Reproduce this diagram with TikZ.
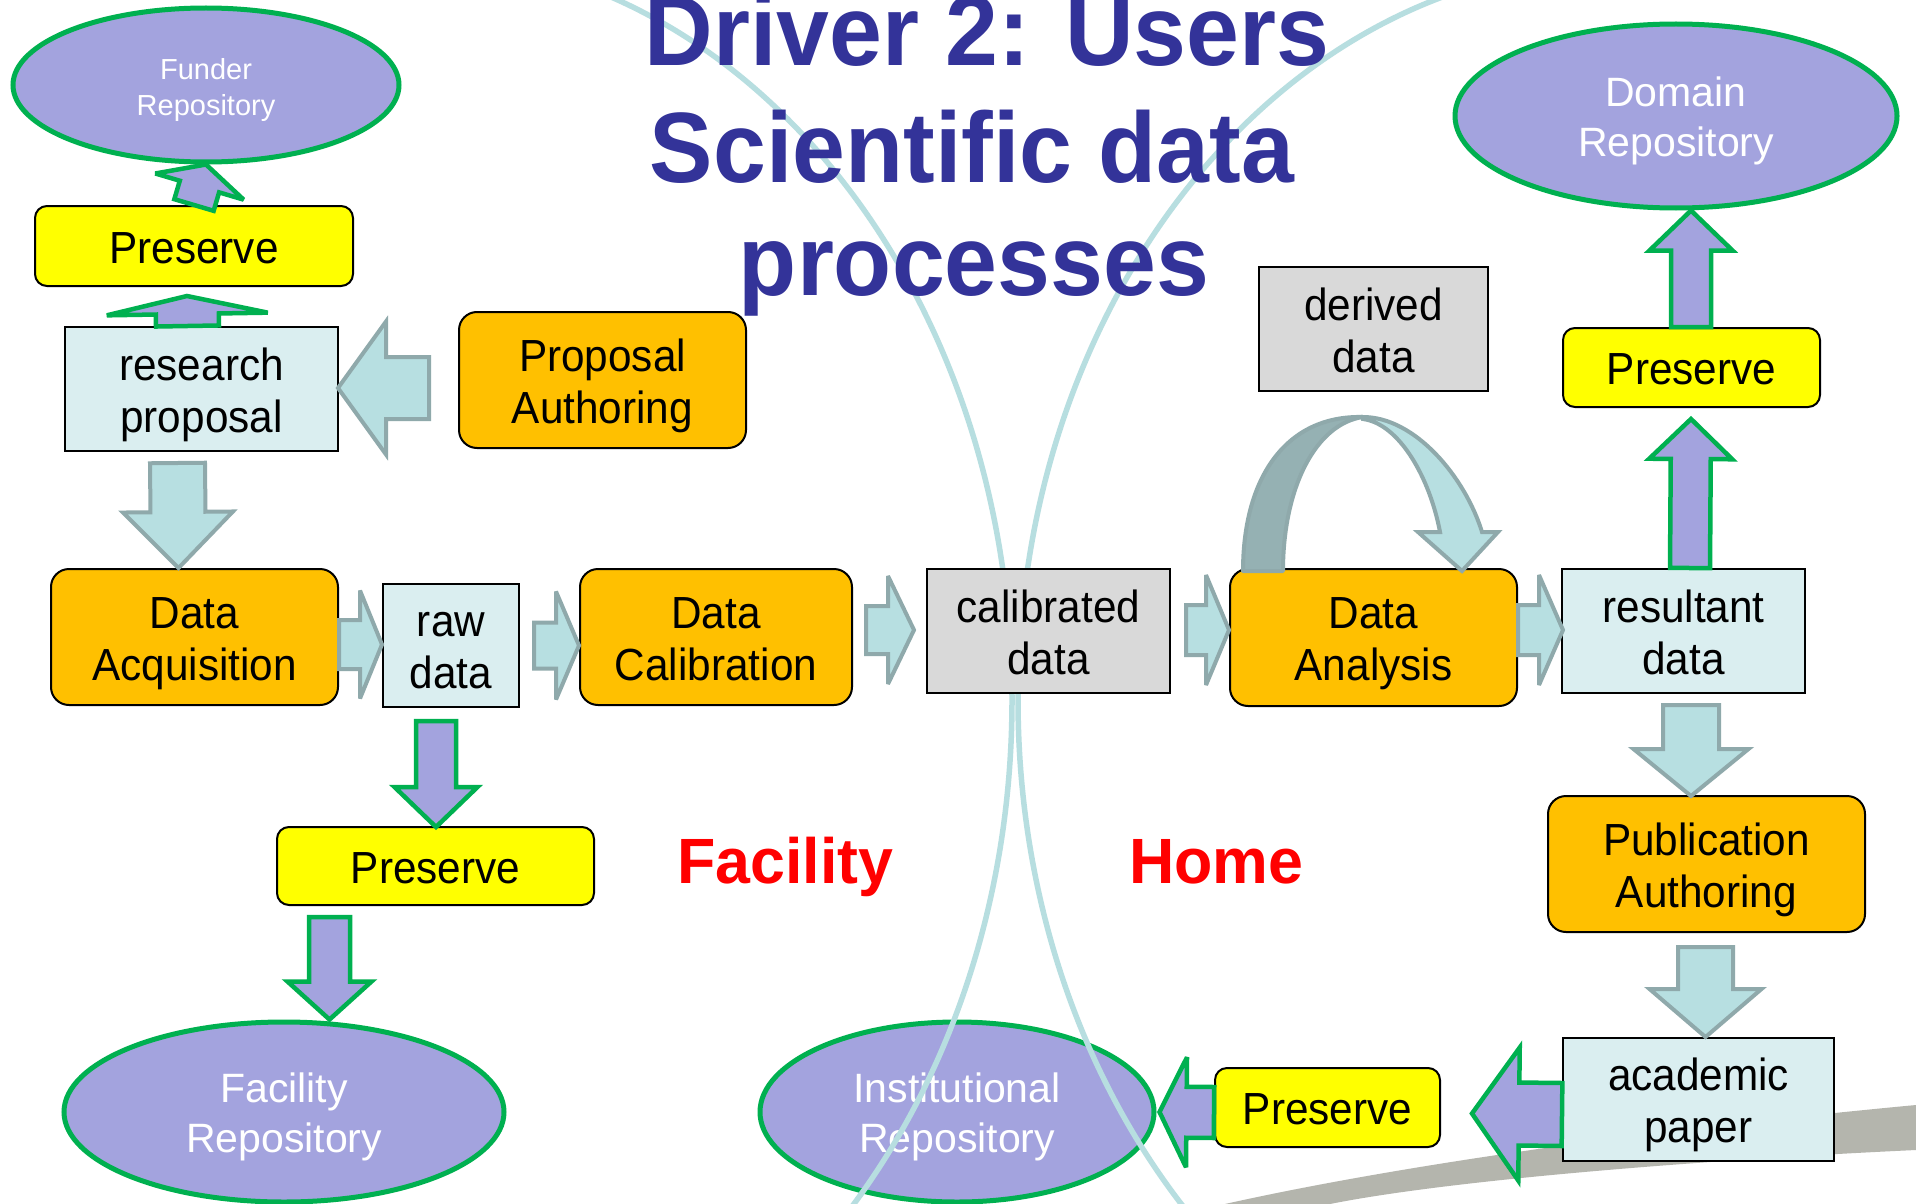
\documentclass[tikz,border=0pt]{standalone}
\usepackage{fontspec}
\usetikzlibrary{calc,shapes.geometric}

\newfontfamily\bodyfont[FakeStretch=0.94]{Liberation Sans}
\newfontfamily\repofont{Liberation Sans}
\newfontfamily\headfont[FakeStretch=0.95]{Liberation Sans}
\newfontfamily\zonefont[FakeStretch=0.98]{Liberation Sans}
\newcommand\bodytext{\bodyfont\fontsize{45}{52}\selectfont}
\newcommand\repotext{\repofont\fontsize{41}{50}\selectfont}
% fixed struts so that every label sits on the same baselines
\newcommand\boxtop{\rule{0pt}{44pt}}
\newcommand\boxbot{\rule[-10pt]{0pt}{10pt}}
\newcommand\repotop{\rule{0pt}{40pt}}
\newcommand\repobot{\rule[-9pt]{0pt}{9pt}}
\newcommand\smalltop{\rule{0pt}{32pt}}
\newcommand\smallbot{\rule[-6pt]{0pt}{6pt}}

\definecolor{procorange}{HTML}{FFC000}
\definecolor{keepyellow}{HTML}{FFFF00}
\definecolor{docblue}{HTML}{DAEEF0}
\definecolor{datagray}{HTML}{D9D9D9}
\definecolor{repolilac}{HTML}{A3A3DE}
\definecolor{repogreen}{HTML}{00B050}
\definecolor{flowfill}{HTML}{B7DFE1}
\definecolor{flowedge}{HTML}{8FA9AB}
\definecolor{flowshade}{HTML}{95B1B3}
\definecolor{titleblue}{HTML}{333399}
\definecolor{arcblue}{HTML}{B7DEE0}
\definecolor{swooshgray}{HTML}{B4B5AD}

% block arrow: [style]{from}{tip}{shaft half-width}{head half-width}{head length}
\newcommand\blockarrow[6][]{%
  \path[#1]
    ($(#2)!#4!90:(#3)$) --
    ($(#3)!#6!(#2)!#4!90:(#3)$) --
    ($(#3)!#6!(#2)!#5!90:(#3)$) --
    (#3) --
    ($(#3)!#6!(#2)!#5!-90:(#3)$) --
    ($(#3)!#6!(#2)!#4!-90:(#3)$) --
    ($(#2)!#4!-90:(#3)$) -- cycle;}

\tikzset{
  basebox/.style={draw=black, line width=2pt, inner sep=0pt, align=center, font=\bodytext},
  procbox/.style={basebox, fill=procorange, rounded corners=18pt},
  keepbox/.style={basebox, fill=keepyellow, rounded corners=12pt},
  docbox/.style={basebox, fill=docblue},
  databox/.style={basebox, fill=datagray},
  repo/.style={ellipse, draw=repogreen, line width=5pt, fill=repolilac, text=white,
    inner sep=0pt, align=center, font=\repotext},
  headline/.style={anchor=base, text=titleblue, font=\headfont\bfseries\fontsize{100}{115}\selectfont},
  zone/.style={anchor=base, text=red, font=\zonefont\bfseries\fontsize{64}{70}\selectfont},
  arcline/.style={draw=arcblue, line width=5.5pt},
  flowarrow/.style={fill=flowfill, draw=flowedge, line width=4pt, line join=miter, miter limit=4},
  keeparrow/.style={fill=repolilac, draw=repogreen, line width=4.5pt, line join=miter, miter limit=4},
  loopdark/.style={fill=flowshade, draw=flowedge, line width=4pt, line join=round},
  looplight/.style={fill=flowfill, draw=flowedge, line width=4pt, line join=miter, miter limit=4},
}

\begin{document}
\begin{tikzpicture}[x=1pt,y=-1pt]
\useasboundingbox (0,0) rectangle (1916,1204);
\fill[white] (0,0) rectangle (1916,1204);

\begin{scope}
\clip (0,0) rectangle (1916,1204);
% grey sweep in the lower right corner
\fill[swooshgray] (1225,1204) .. controls (1400,1165) and (1650,1130) .. (1916,1105)
  -- (1916,1150) .. controls (1700,1160) and (1450,1180) .. (1330,1204) -- cycle;

\node[repo, minimum width=394pt, minimum height=180pt] (inst) at (957,1112) {\repotop Institutional\\Repository\repobot};

% facility / home boundary: two facing elliptic arcs
\draw[arcline] (412,700) ++(0pt,-745pt)
  arc[start angle=-90, end angle=90, x radius=600pt, y radius=745pt];
\draw[arcline] (1618,700) ++(0pt,735pt)
  arc[start angle=90, end angle=270, x radius=600pt, y radius=735pt];

% title
\node[headline] (t1) at (987,66) {Driver 2: Users};
\node[headline] (t2) at (972,182) {Scientific data};
\node[headline] (t3) at (974,295) {processes};

\node[repo, minimum width=440pt, minimum height=180pt] (facility) at (284,1112) {\repotop Facility\\Repository\repobot};
\end{scope}

% repositories
\node[repo, minimum width=386pt, minimum height=154pt,
      font=\repofont\fontsize{29}{36}\selectfont] (funder) at (206,85) {\smalltop Funder\\Repository\smallbot};
\node[repo, minimum width=442pt, minimum height=184pt] (domain) at (1676,116) {\repotop Domain\\Repository\repobot};

% preservation steps
\node[keepbox, minimum width=318pt, minimum height=80pt] (prvTL) at (194,246) {\boxtop Preserve\boxbot};
\node[keepbox, minimum width=257pt, minimum height=79pt] (prvR) at (1691.5,367.5) {\boxtop Preserve\boxbot};
\node[keepbox, minimum width=317pt, minimum height=78pt] (prvM) at (435.5,866) {\boxtop Preserve\boxbot};
\node[keepbox, minimum width=225pt, minimum height=79pt] (prvB) at (1327.5,1107.5) {\boxtop Preserve\boxbot};

% processes
\node[procbox, minimum width=287pt, minimum height=136pt] (pa) at (602.5,380) {\boxtop Proposal\\Authoring\boxbot};
\node[procbox, minimum width=287pt, minimum height=136pt] (da) at (194.5,637) {\boxtop Data\\Acquisition\boxbot};
\node[procbox, minimum width=272pt, minimum height=136pt] (dc) at (716,637) {\boxtop Data\\Calibration\boxbot};
\node[procbox, minimum width=287pt, minimum height=137pt] (dan) at (1373.5,637.5) {\boxtop Data\\Analysis\boxbot};
\node[procbox, minimum width=317pt, minimum height=136pt] (pub) at (1706.5,864) {\boxtop Publication\\Authoring\boxbot};

% data products
\node[docbox, minimum width=273pt, minimum height=124pt] (rp) at (201.5,389) {\boxtop research\\proposal\boxbot};
\node[docbox, minimum width=136pt, minimum height=123pt] (raw) at (451,645.5) {\boxtop raw\\data\boxbot};
\node[databox, minimum width=243pt, minimum height=124pt] (cal) at (1048.5,631) {\boxtop calibrated\\data\boxbot};
\node[databox, minimum width=229pt, minimum height=124pt] (derived) at (1373.5,329) {\boxtop derived\\data\boxbot};
\node[docbox, minimum width=243pt, minimum height=124pt] (res) at (1683.5,631) {\boxtop resultant\\data\boxbot};
\node[docbox, minimum width=271pt, minimum height=123pt] (acad) at (1698.5,1099.5) {\boxtop academic\\paper\boxbot};

% zone labels
\node[zone] (fac) at (785.5,883) {Facility};
\node[zone] (home) at (1216.5,883) {Home};

% arrow end points
\coordinate (a2s) at ($(rp.north)+(-14,0)$);
\coordinate (a2t) at ($(prvTL.south)+(-7,9)$);
\coordinate (a3s) at ($(pa.west)+(-29,8)$);
\coordinate (a3t) at ($(rp.east)+(-1,-1)$);
\coordinate (a4s) at ($(rp.south)+(-24,11)$);
\coordinate (a4t) at ($(da.north)+(-16,0)$);
\coordinate (a5s) at ($(da.east)+(0,7.5)$);
\coordinate (a5t) at ($(raw.west)+(0,-1)$);
\coordinate (a6s) at ($(raw.east)+(14,0)$);
\coordinate (a6t) at ($(dc.west)+(0,8.5)$);
\coordinate (a7s) at ($(dc.east)+(13,-7)$);
\coordinate (a7t) at ($(cal.west)+(-12,-1)$);
\coordinate (a8s) at ($(cal.east)+(15,-1)$);
\coordinate (a8t) at ($(dan.west)+(0,-7.5)$);
\coordinate (a9s) at ($(dan.east)+(0,-7.5)$);
\coordinate (a9t) at ($(res.west)+(2,-1)$);
\coordinate (a10s) at ($(res.north)+(6.5,0)$);
\coordinate (a10t) at ($(prvR.south)+(-0.5,11)$);
\coordinate (a11s) at ($(prvR.north)+(-0.5,0)$);
\coordinate (a11t) at ($(domain.south)+(15,0)$);
\coordinate (a12s) at ($(res.south)+(7.5,11)$);
\coordinate (a12t) at ($(pub.north)+(-15.5,1)$);
\coordinate (a13s) at ($(pub.south)+(-1,14)$);
\coordinate (a13t) at ($(acad.north)+(7,0)$);
\coordinate (a14s) at ($(acad.west)+(0,15)$);
\coordinate (a14t) at ($(prvB.east)+(31,6)$);
\coordinate (a15s) at ($(prvB.west)+(0,5)$);
\coordinate (a15t) at ($(inst.east)+(3,0)$);
\coordinate (a16s) at ($(raw.south)+(-15,13)$);
\coordinate (a16t) at ($(prvM.north)+(0.5,1)$);
\coordinate (a17s) at ($(prvM.south)+(-106,11)$);
\coordinate (a17t) at ($(facility.north)+(45.5,0)$);

% process flow
\blockarrow[flowarrow]{a3s}{a3t}{31pt}{66.5pt}{48pt}
\blockarrow[flowarrow]{a4s}{a4t}{27.5pt}{55pt}{56pt}
\blockarrow[flowarrow]{a5s}{a5t}{24.5pt}{54pt}{22pt}
\blockarrow[flowarrow]{a6s}{a6t}{23pt}{54pt}{23pt}
\blockarrow[flowarrow]{a7s}{a7t}{24pt}{54pt}{26pt}
\blockarrow[flowarrow]{a8s}{a8t}{25pt}{55pt}{23pt}
\blockarrow[flowarrow]{a9s}{a9t}{25pt}{55pt}{24pt}
\blockarrow[flowarrow]{a12s}{a12t}{28pt}{57.5pt}{47pt}
\blockarrow[flowarrow]{a13s}{a13t}{27.5pt}{56pt}{48pt}

% preservation flow
\blockarrow[keeparrow]{prvTL.north}{funder.south}{20.5pt}{46pt}{23pt}
\blockarrow[keeparrow]{a2s}{a2t}{31.5pt}{80.5pt}{18pt}
\blockarrow[keeparrow]{a10s}{a10t}{20pt}{41.5pt}{40pt}
\blockarrow[keeparrow]{a11s}{a11t}{20pt}{41.5pt}{40pt}
\blockarrow[keeparrow]{a14s}{a14t}{31.5pt}{66.5pt}{47pt}
\blockarrow[keeparrow]{a15s}{a15t}{25.5pt}{55pt}{27pt}
\blockarrow[keeparrow]{a16s}{a16t}{20pt}{41.5pt}{40pt}
\blockarrow[keeparrow]{a17s}{a17t}{20.5pt}{42pt}{38pt}

% analysis loop over Data Analysis
\begin{scope}[shift={(dan.north)}]
\path[loopdark] (-130.5,3) .. controls (-130.5,-89) and (-88.5,-153) .. (-10.5,-151)
  .. controls (-58.5,-144) and (-90.5,-79) .. (-90.5,3) -- cycle;
\path[looplight] (-10.5,-151) .. controls (41.5,-151) and (91.5,-91) .. (108.5,-36)
  -- (124.5,-36) -- (88.5,3) -- (44.5,-36) -- (66.5,-36)
  .. controls (56.5,-89) and (26.5,-144) .. (-10.5,-149) -- cycle;
\end{scope}
\end{tikzpicture}
\end{document}
